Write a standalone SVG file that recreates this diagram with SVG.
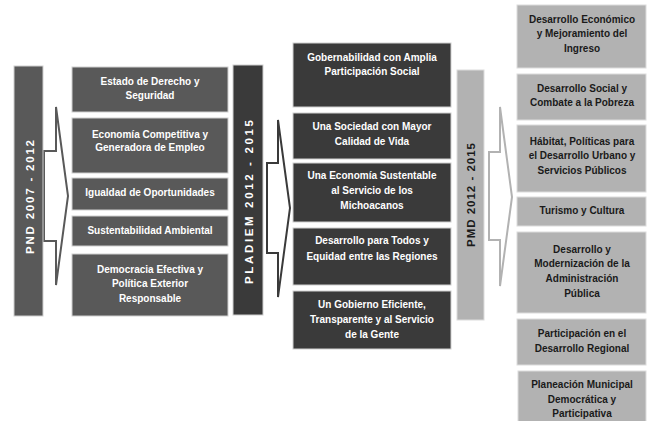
<svg xmlns="http://www.w3.org/2000/svg" width="647" height="421" viewBox="0 0 647 421">
<style>
text{font-family:"Liberation Sans",Arial,sans-serif;font-weight:bold;font-size:10px;text-anchor:middle}
.l rect{fill:#595959;stroke:#cfcfcf;stroke-width:1}
.m rect{fill:#3a3a3a;stroke:#cfcfcf;stroke-width:1}
.r rect{fill:#b2b2b2;stroke:#dcdcdc;stroke-width:1}
.l text,.m text{fill:#ffffff}
.r text{fill:#1a1a1a}
.bar text{font-size:11.5px}
.arrow{fill:#ffffff;stroke-width:2;stroke-linejoin:miter}
</style>
<rect width="647" height="421" fill="#ffffff"/>

<g id="connectors">
<polygon class="arrow" stroke="#595959" points="44,151 56,151 56,107 68,196 56,285 56,241 44,241"/>
<polygon class="arrow" stroke="#3a3a3a" points="267,163 278,163 278,120 290,208 278,297 278,253 267,253"/>
<polygon class="arrow" stroke="#b2b2b2" points="489,152 500,152 500,107 512,197 500,286 500,240 489,240"/>
</g>

<g id="pnd" class="l bar"><rect x="14" y="66" width="29" height="250"/>
<text transform="translate(33.5,197) rotate(-90)" textLength="114" lengthAdjust="spacing">PND 2007 - 2012</text></g>
<g id="pladiem" class="m bar"><rect x="233" y="65" width="30" height="250"/>
<text transform="translate(252.5,202) rotate(-90)" textLength="164" lengthAdjust="spacing">PLADIEM 2012 - 2015</text></g>
<g id="pmd" class="r bar"><rect x="457" y="70" width="27" height="250"/>
<text transform="translate(475,195) rotate(-90)" textLength="104" lengthAdjust="spacing">PMD 2012 - 2015</text></g>

<g id="l1" class="l"><rect x="72" y="67" width="156" height="45"/><text x="150" y="85">Estado de Derecho y</text><text x="150" y="99">Seguridad</text></g>
<g id="l2" class="l"><rect x="72" y="118" width="156" height="55"/><text x="150" y="137.5">Economía Competitiva y</text><text x="150" y="150.5">Generadora de Empleo</text></g>
<g id="l3" class="l"><rect x="72" y="178" width="156" height="32"/><text x="150" y="196">Igualdad de Oportunidades</text></g>
<g id="l4" class="l"><rect x="72" y="216" width="156" height="30"/><text x="150" y="234">Sustentabilidad Ambiental</text></g>
<g id="l5" class="l"><rect x="72" y="254" width="156" height="62"/><text x="150" y="272.5">Democracia Efectiva y</text><text x="150" y="287">Política Exterior</text><text x="150" y="301.5">Responsable</text></g>

<g id="m1" class="m"><rect x="293" y="43" width="158" height="64"/><text x="372" y="60.5">Gobernabilidad con Amplia</text><text x="372" y="75">Participación Social</text></g>
<g id="m2" class="m"><rect x="293" y="113" width="158" height="46"/><text x="372" y="130">Una Sociedad con Mayor</text><text x="372" y="144.5">Calidad de Vida</text></g>
<g id="m3" class="m"><rect x="293" y="163" width="158" height="59"/><text x="372" y="178.5">Una Economía Sustentable</text><text x="372" y="193.5">al Servicio de los</text><text x="372" y="208.5">Michoacanos</text></g>
<g id="m4" class="m"><rect x="293" y="228" width="158" height="57"/><text x="372" y="244">Desarrollo para Todos y</text><text x="372" y="259.5">Equidad entre las Regiones</text></g>
<g id="m5" class="m"><rect x="293" y="291" width="158" height="58"/><text x="372" y="307.5">Un Gobierno Eficiente,</text><text x="372" y="322.5">Transparente y al Servicio</text><text x="372" y="337.5">de la Gente</text></g>

<g id="r1" class="r"><rect x="517" y="5" width="129" height="63"/><text x="582" y="22.5">Desarrollo Económico</text><text x="582" y="37">y Mejoramiento del</text><text x="582" y="51.5">Ingreso</text></g>
<g id="r2" class="r"><rect x="517" y="74" width="129" height="46"/><text x="582" y="91.5">Desarrollo Social y</text><text x="582" y="106">Combate a la Pobreza</text></g>
<g id="r3" class="r"><rect x="517" y="125" width="129" height="67"/><text x="582" y="144.5">Hábitat, Políticas para</text><text x="582" y="159">el Desarrollo Urbano y</text><text x="582" y="174">Servicios Públicos</text></g>
<g id="r4" class="r"><rect x="517" y="197" width="129" height="29"/><text x="582" y="214">Turismo y Cultura</text></g>
<g id="r5" class="r"><rect x="517" y="232" width="129" height="81"/><text x="582" y="252.5">Desarrollo y</text><text x="582" y="267">Modernización de la</text><text x="582" y="281.5">Administración</text><text x="582" y="296.5">Pública</text></g>
<g id="r6" class="r"><rect x="517" y="319" width="129" height="46"/><text x="582" y="336.5">Participación en el</text><text x="582" y="351.5">Desarrollo Regional</text></g>
<g id="r7" class="r"><rect x="518" y="371" width="128" height="52"/><text x="582" y="387.5">Planeación Municipal</text><text x="582" y="402.5">Democrática y</text><text x="582" y="417">Participativa</text></g>
</svg>
